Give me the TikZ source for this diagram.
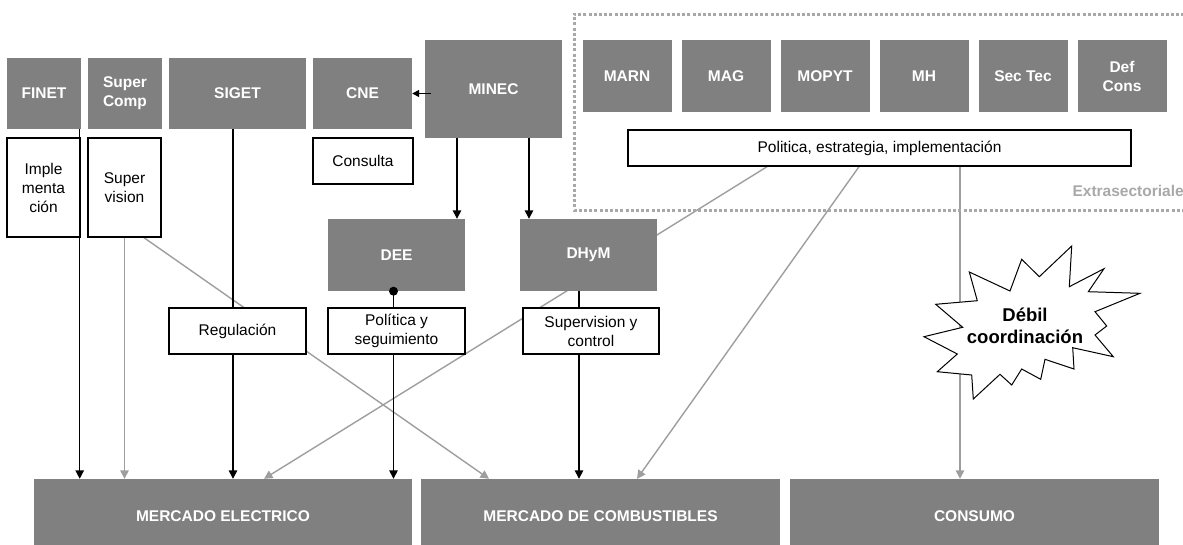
\documentclass[tikz,border=0pt]{standalone}
\usepackage{fontspec}
\setmainfont{Liberation Sans}
\usepackage{tikz}
\usetikzlibrary{arrows.meta, backgrounds}
\definecolor{boxgray}{gray}{0.5}
\definecolor{linegray}{gray}{0.62}
\definecolor{dotgray}{gray}{0.66}
\newcommand{\lblsize}{\fontsize{15.5}{19}\selectfont}
\tikzset{
  gbox/.style={fill=boxgray, text=white, font=\lblsize\bfseries, inner sep=0pt, align=center},
  wbox/.style={draw, fill=white, line width=1.4pt, inner sep=0pt, align=center},
  conn/.style={line width=1.4pt},
  arr/.style={conn, -{Triangle[length=8.5pt,width=8.5pt]}},
  garr/.style={arr, draw=linegray}
}

\begin{document}
\begin{tikzpicture}[x=1pt, y=-1pt, font=\lblsize]
\useasboundingbox (0,0) rectangle (1183,544);
% dotted frame
\draw[dotgray, line width=3pt, dash pattern=on 3pt off 2.2pt] (1200,14) -- (574,14) -- (574,210) -- (1200,210);
\node[anchor=west, text=dotgray, font=\lblsize\bfseries] (extra) at (1069,191) {Extrasectoriales};
% top row
\foreach \x/\w/\name/\txt in {44/74/FINET/FINET, 125/74/SComp/{Super\\Comp}, 237.5/137/SIGET/SIGET, 362.5/99/CNE/CNE}{
\node[gbox, minimum width=\w, minimum height=71] (\name) at (\x,93.5) {\txt};
}
\node[gbox, minimum width=137, minimum height=98] (MINEC) at (493.5,89) {MINEC};
\foreach \i/\name/\txt in {0/MARN/MARN, 1/MAG/MAG, 2/MOPYT/MOPYT, 3/MH/MH, 4/SecTec/Sec Tec, 5/DefCons/{Def\\Cons}}{
\node[gbox, minimum width=89, minimum height=72] (\name) at (627+99*\i,76) {\txt};
}
\node[wbox, minimum width=503, minimum height=36] (PE) at (879.5,148) {Politica, estrategia, implementación};
\node[wbox, minimum width=73, minimum height=99] (Imple) at (43.5,187.5) {Imple\\menta\\ción};
\node[wbox, minimum width=73, minimum height=99] (Sup) at (124.5,187.5) {Super\\vision};
\node[wbox, minimum width=100, minimum height=46] (Cons) at (363,161) {Consulta};
% middle
\node[gbox, minimum width=137, minimum height=72] (DEE) at (396.5,255) {DEE};
\node[gbox, minimum width=137, minimum height=72] (DHyM) at (588.5,255) {DHyM};
\node[wbox, minimum width=137, minimum height=46] (Reg) at (237.5,331) {Regulación};
\node[wbox, minimum width=137, minimum height=46] (Pol) at (396.5,331) {Política y\\seguimiento};
\node[wbox, minimum width=136, minimum height=46] (SupCtrl) at (591,331) {Supervision y\\control};
% bottom
\foreach \x/\w/\name/\txt in {223/378/ME/MERCADO ELECTRICO, 600.5/359/MC/MERCADO DE COMBUSTIBLES, 974.5/369/CON/CONSUMO}{
\node[gbox, minimum width=\w, minimum height=74] (\name) at (\x,516) {\txt};
}
\begin{scope}[on background layer]
\draw[garr] (Sup.south) -- (Sup.south |- ME.north);
\draw[garr] ([xshift=19.5pt]Sup.south) -- ([xshift=-111.5pt]MC.north);
\draw[garr] ([xshift=-112.5pt]PE.south) -- ([xshift=41pt]ME.north);
\draw[garr] ([xshift=-20.5pt]PE.south) -- ([xshift=36.5pt]MC.north);
\draw[garr] ([xshift=80.5pt]PE.south) -- ([xshift=80.5pt]PE.south |- CON.north);
\end{scope}
\draw[arr] ([xshift=-1pt]FINET.south -| Imple.east) -- ([xshift=-1pt]ME.north -| Imple.east);
\draw[conn] ([xshift=-4.5pt]SIGET.south) -- ([xshift=-4.5pt]Reg.north);
\draw[arr] ([xshift=-4.5pt]Reg.south) -- ([xshift=-4.5pt]Reg.south |- ME.north);
\draw[conn, -{Triangle[length=7pt,width=7pt]}] ([xshift=6pt]MINEC.west |- CNE.east) -- (CNE.east);
\draw[arr] ([xshift=-36.5pt]MINEC.south) -- ([xshift=-36.5pt]MINEC.south |- DEE.north);
\draw[arr] ([xshift=35.5pt]MINEC.south) -- ([xshift=35.5pt]MINEC.south |- DHyM.north);
\draw[conn] ([xshift=-3pt]DEE.south) -- ([xshift=-3pt]DEE.south |- Pol.north);
\fill ([xshift=-3pt]DEE.south) circle (4.5pt);
\draw[arr] ([xshift=-3pt]Pol.south) -- ([xshift=-3pt]Pol.south |- ME.north);
\draw[conn] ([xshift=-9.5pt]DHyM.south) -- ([xshift=-9.5pt]DHyM.south |- SupCtrl.north);
\draw[arr] ([xshift=-9.5pt]DHyM.south |- SupCtrl.south) -- ([xshift=-9.5pt]DHyM.south |- MC.north);
% starburst
\draw[line width=1pt, fill=white, line join=miter] (1071.7,246) -- (1069.3,286.7) -- (1104,268.7) -- (1088.3,291.7) -- (1140,293.3) -- (1095,311.7) -- (1106.7,326) -- (1095,335) -- (1113.3,356.7) -- (1072.7,347.7) -- (1074,369) -- (1045,359.3) -- (1040.7,379.3) -- (1021.7,369) -- (1011.7,385) -- (1000,374.3) -- (973.3,399) -- (971.7,375) -- (937.3,371.7) -- (957.3,354) -- (924,336.7) -- (962.7,327.3) -- (935.7,304.3) -- (977.3,300.7) -- (969.3,272) -- (1010,291) -- (1021.7,259.3) -- (1039.3,276.7) -- cycle;
\node[font=\fontsize{18.5}{22}\selectfont\bfseries, align=center] (weak) at (1025,326) {Débil\\coordinación};
\end{tikzpicture}
\end{document}
